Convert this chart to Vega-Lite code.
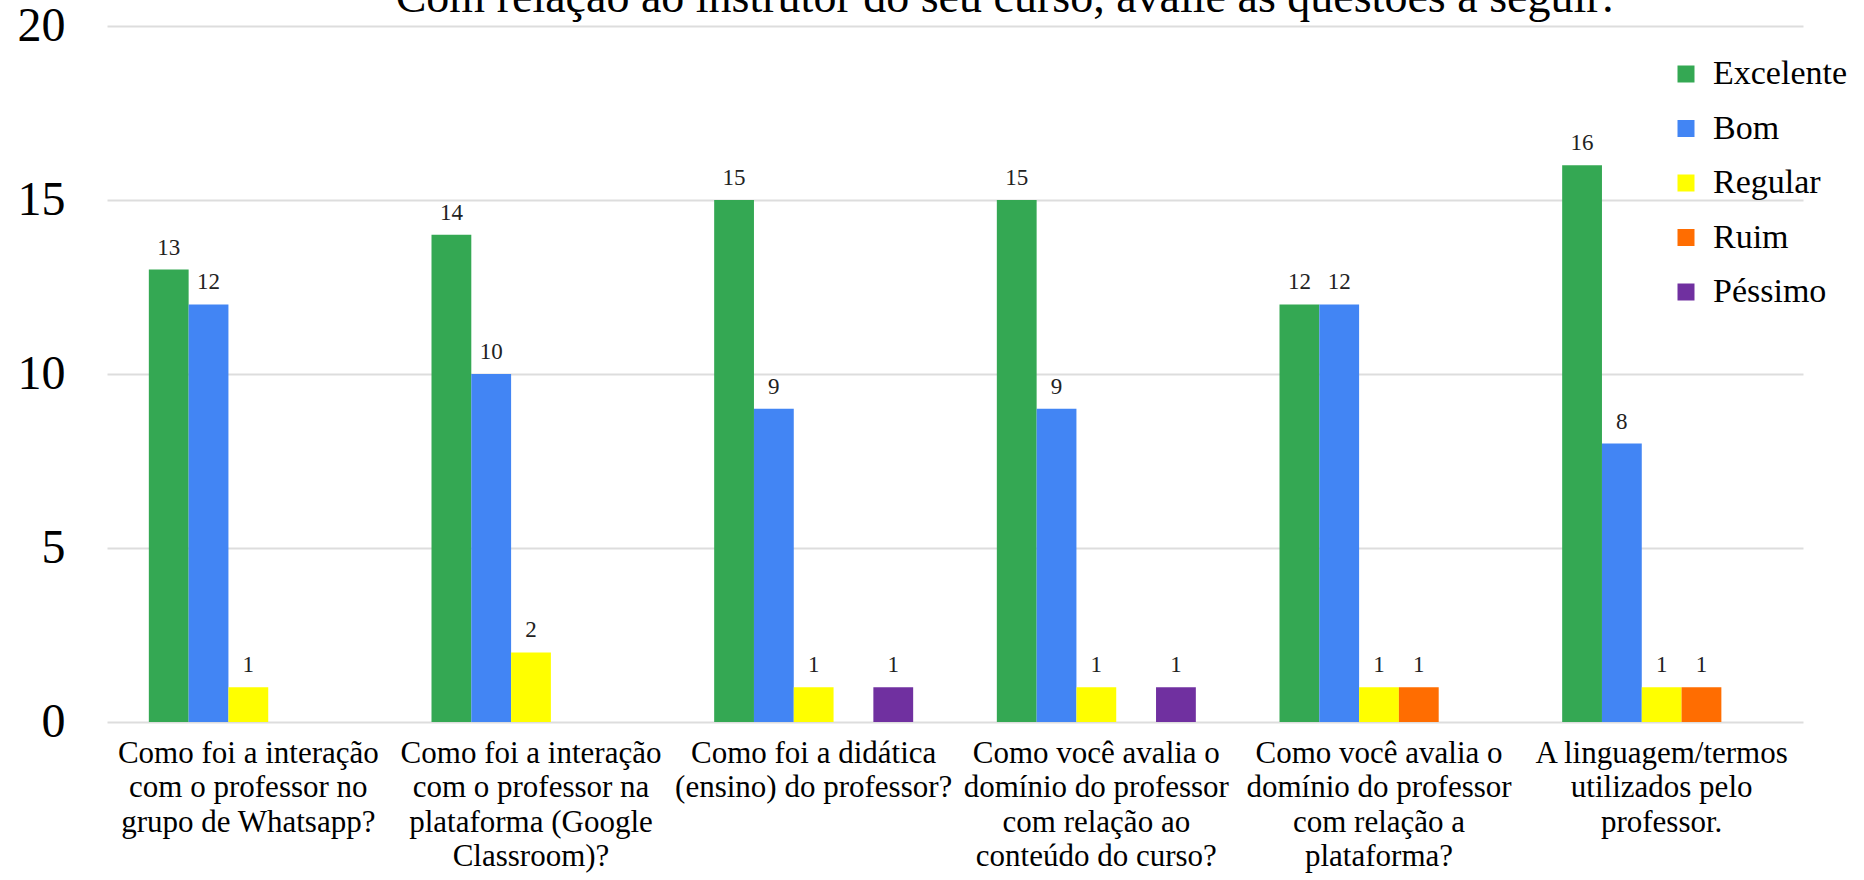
{
  "$schema": "https://vega.github.io/schema/vega-lite/v6.json",
  "autosize": {"type": "none"},
  "padding": {"left": 107, "top": 26, "right": 61, "bottom": 158},
  "width": 1696,
  "height": 696,
  "background": "white",
  "view": {"stroke": null},
  "title": {
    "text": "Com relação ao instrutor do seu curso, avalie as questões a seguir:",
    "font": "'Liberation Serif', 'DejaVu Serif', serif",
    "fontSize": 46,
    "fontWeight": "normal",
    "color": "#000000",
    "anchor": "middle",
    "dx": 50,
    "offset": -20
  },
  "data": {
    "values": [
      {"q": "Como foi a interação|com o professor no|grupo de Whatsapp?", "cat": "Excelente", "v": 13},
      {"q": "Como foi a interação|com o professor no|grupo de Whatsapp?", "cat": "Bom", "v": 12},
      {"q": "Como foi a interação|com o professor no|grupo de Whatsapp?", "cat": "Regular", "v": 1},
      {"q": "Como foi a interação|com o professor na|plataforma (Google|Classroom)?", "cat": "Excelente", "v": 14},
      {"q": "Como foi a interação|com o professor na|plataforma (Google|Classroom)?", "cat": "Bom", "v": 10},
      {"q": "Como foi a interação|com o professor na|plataforma (Google|Classroom)?", "cat": "Regular", "v": 2},
      {"q": "Como foi a didática|(ensino) do professor?", "cat": "Excelente", "v": 15},
      {"q": "Como foi a didática|(ensino) do professor?", "cat": "Bom", "v": 9},
      {"q": "Como foi a didática|(ensino) do professor?", "cat": "Regular", "v": 1},
      {"q": "Como foi a didática|(ensino) do professor?", "cat": "Péssimo", "v": 1},
      {"q": "Como você avalia o|domínio do professor|com relação ao|conteúdo do curso?", "cat": "Excelente", "v": 15},
      {"q": "Como você avalia o|domínio do professor|com relação ao|conteúdo do curso?", "cat": "Bom", "v": 9},
      {"q": "Como você avalia o|domínio do professor|com relação ao|conteúdo do curso?", "cat": "Regular", "v": 1},
      {"q": "Como você avalia o|domínio do professor|com relação ao|conteúdo do curso?", "cat": "Péssimo", "v": 1},
      {"q": "Como você avalia o|domínio do professor|com relação a|plataforma?", "cat": "Excelente", "v": 12},
      {"q": "Como você avalia o|domínio do professor|com relação a|plataforma?", "cat": "Bom", "v": 12},
      {"q": "Como você avalia o|domínio do professor|com relação a|plataforma?", "cat": "Regular", "v": 1},
      {"q": "Como você avalia o|domínio do professor|com relação a|plataforma?", "cat": "Ruim", "v": 1},
      {"q": "A linguagem/termos|utilizados pelo|professor.", "cat": "Excelente", "v": 16},
      {"q": "A linguagem/termos|utilizados pelo|professor.", "cat": "Bom", "v": 8},
      {"q": "A linguagem/termos|utilizados pelo|professor.", "cat": "Regular", "v": 1},
      {"q": "A linguagem/termos|utilizados pelo|professor.", "cat": "Ruim", "v": 1}
    ]
  },
  "encoding": {
    "x": {
      "field": "q",
      "type": "nominal",
      "sort": null,
      "scale": {"paddingInner": 0.296, "paddingOuter": 0.148},
      "axis": {
        "title": null,
        "labelAngle": 0,
        "labelExpr": "split(datum.label, '|')",
        "labelFont": "'Liberation Serif', 'DejaVu Serif', serif",
        "labelFontSize": 31,
        "labelLineHeight": 34.5,
        "labelColor": "#000000",
        "labelLimit": 400,
        "labelPadding": 16,
        "labelBaseline": "top",
        "ticks": false,
        "domain": false
      }
    },
    "xOffset": {
      "field": "cat",
      "type": "nominal",
      "scale": {"domain": ["Excelente", "Bom", "Regular", "Ruim", "Péssimo"]}
    },
    "y": {
      "field": "v",
      "type": "quantitative",
      "scale": {"domain": [0, 20]},
      "axis": {
        "title": null,
        "values": [0, 5, 10, 15, 20],
        "labelFont": "'Liberation Serif', 'DejaVu Serif', serif",
        "labelFontSize": 48,
        "labelColor": "#000000",
        "labelPadding": 42,
        "ticks": false,
        "domain": false,
        "gridColor": "#dddddd",
        "gridWidth": 2
      }
    }
  },
  "layer": [
    {
      "mark": {"type": "bar"},
      "encoding": {
        "color": {
          "field": "cat",
          "type": "nominal",
          "scale": {
            "domain": ["Excelente", "Bom", "Regular", "Ruim", "Péssimo"],
            "range": ["#34a853", "#4285f4", "#ffff00", "#ff6d01", "#7030a0"]
          },
          "legend": {
            "title": null,
            "orient": "none",
            "legendX": 1562,
            "legendY": 31,
            "symbolType": "square",
            "symbolSize": 289,
            "symbolStrokeWidth": 0,
            "labelFont": "'Liberation Serif', 'DejaVu Serif', serif",
            "labelFontSize": 34,
            "labelColor": "#000000",
            "labelOffset": 10,
            "rowPadding": 20.5
          }
        }
      }
    },
    {
      "mark": {
        "type": "text",
        "baseline": "alphabetic",
        "dy": -15,
        "font": "'Liberation Serif', 'DejaVu Serif', serif",
        "fontSize": 23,
        "color": "#222222"
      },
      "encoding": {
        "text": {"field": "v", "type": "quantitative"}
      }
    }
  ]
}
